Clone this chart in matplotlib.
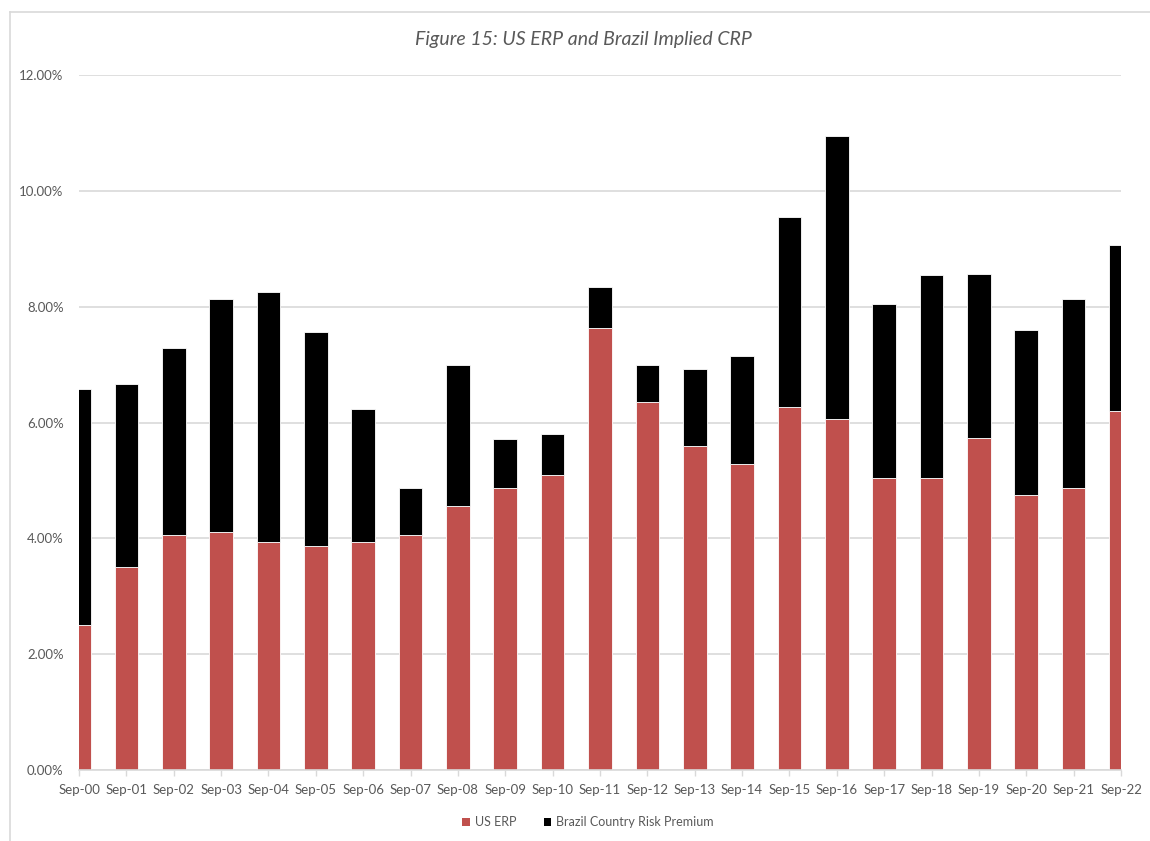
import matplotlib
matplotlib.use("Agg")
import matplotlib.pyplot as plt
from matplotlib.ticker import FuncFormatter, MultipleLocator
from matplotlib.lines import Line2D
from matplotlib.patches import Patch

categories = ["Sep-00", "Sep-01", "Sep-02", "Sep-03", "Sep-04", "Sep-05", "Sep-06",
              "Sep-07", "Sep-08", "Sep-09", "Sep-10", "Sep-11", "Sep-12", "Sep-13",
              "Sep-14", "Sep-15", "Sep-16", "Sep-17", "Sep-18", "Sep-19", "Sep-20",
              "Sep-21", "Sep-22"]
us_erp = [2.51, 3.50, 4.05, 4.11, 3.93, 3.87, 3.93, 4.05, 4.55, 4.87, 5.10, 7.64,
          6.35, 5.60, 5.28, 6.27, 6.06, 5.04, 5.04, 5.74, 4.75, 4.87, 6.20]
total = [6.57, 6.67, 7.29, 8.13, 8.25, 7.57, 6.24, 4.87, 6.99, 5.71, 5.80, 8.34,
         6.99, 6.93, 7.14, 9.55, 10.94, 8.04, 8.54, 8.56, 7.60, 8.13, 9.06]
brazil_crp = [t - u for t, u in zip(total, us_erp)]

RED = "#c0504d"
GRID = "#d9d9d9"
TXT = "#595959"
FONT = "Lato"

W, H = 1150, 841
fig = plt.figure(figsize=(W / 100, H / 100), dpi=100)
fig.patch.set_facecolor("white")

left, right, top, bottom = 79, 1121, 75, 770
ax = fig.add_axes([left / W, 1 - bottom / H, (right - left) / W, (bottom - top) / H])

x = list(range(len(categories)))
ax.bar(x, [v / 100 for v in us_erp], width=0.5, color=RED, edgecolor="white",
       linewidth=0.6, zorder=3, label="US ERP")
ax.bar(x, [v / 100 for v in brazil_crp], width=0.5, bottom=[v / 100 for v in us_erp],
       color="black", edgecolor="white", linewidth=0.6, zorder=3,
       label="Brazil Country Risk Premium")

ax.set_xlim(0, len(categories) - 1)
ax.set_ylim(0, 0.12)
ax.yaxis.set_major_locator(MultipleLocator(0.02))
ax.yaxis.set_major_formatter(FuncFormatter(lambda v, p: f"{v*100:.2f}%"))
ax.grid(axis="y", color=GRID, linewidth=1.2, zorder=0)
ax.set_axisbelow(True)

for s in ["top", "right", "left"]:
    ax.spines[s].set_visible(False)
ax.spines["bottom"].set_color(GRID)
ax.spines["bottom"].set_linewidth(1.2)
ax.spines["bottom"].set_zorder(4)

ax.set_xticks(x)
ax.set_xticklabels(categories, fontfamily=FONT, fontsize=9.5, color=TXT)
ax.tick_params(axis="x", length=4, width=1, color=GRID, pad=6)
ax.tick_params(axis="y", length=0, pad=11, labelsize=9.5, labelcolor=TXT)
for lbl in ax.get_yticklabels():
    lbl.set_fontfamily(FONT)

fig.text(583 / W, 1 - 40 / H, "Figure 15: US ERP and Brazil Implied CRP",
         ha="center", va="center", fontsize=14, style="italic", color=TXT,
         fontfamily=FONT)

handles = [Patch(facecolor=RED, edgecolor="none"), Patch(facecolor="black", edgecolor="none")]
fig.legend(handles, ["US ERP", "Brazil Country Risk Premium"], loc="center",
           bbox_to_anchor=(588 / W, 1 - 822 / H), ncol=2, frameon=False,
           prop={"family": FONT, "size": 9}, labelcolor=TXT,
           handlelength=0.6, handleheight=0.6, handletextpad=0.4, columnspacing=2.2)

# outer chart border (light gray)
fig.add_artist(Line2D([10 / W, 10 / W], [0, 1 - 12 / H], transform=fig.transFigure,
                      color=GRID, linewidth=1.2))
fig.add_artist(Line2D([10 / W, 1], [1 - 12 / H, 1 - 12 / H], transform=fig.transFigure,
                      color=GRID, linewidth=1.2))

fig.savefig("out.png", dpi=100, facecolor="white")
